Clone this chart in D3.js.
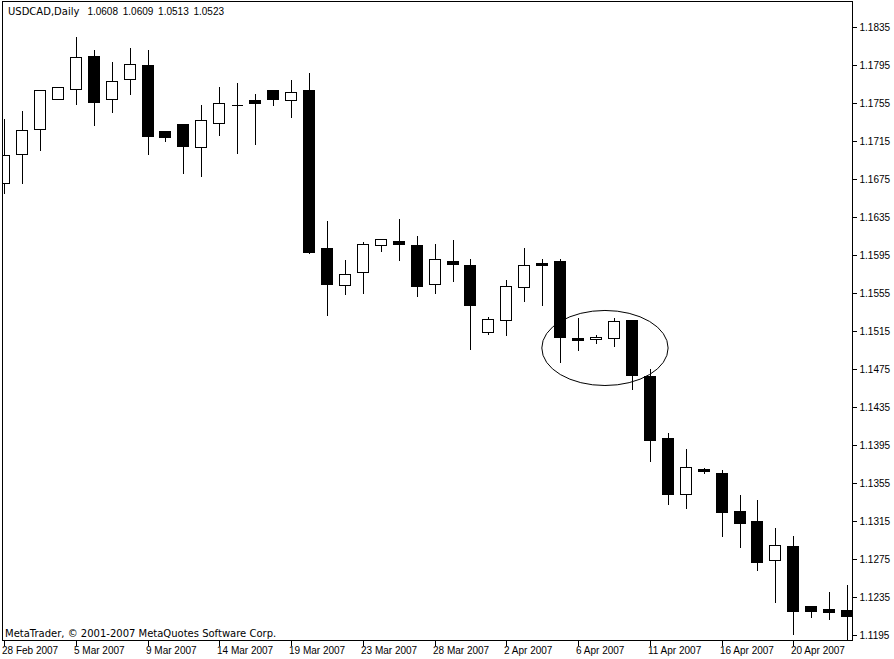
<!DOCTYPE html>
<html><head><meta charset="utf-8">
<script src="https://cdn.jsdelivr.net/npm/d3@7"></script>
<style>
html,body{margin:0;padding:0;background:#fff;overflow:hidden}
svg{display:block}
text{font-family:"Liberation Sans",Arial,sans-serif;font-size:10px;fill:#000}
</style></head><body>
<svg id="chart" width="894" height="659"></svg>
<script>
// ---- data ----
const dates = ["2007-02-28","2007-03-01","2007-03-02","2007-03-04","2007-03-05","2007-03-06","2007-03-07","2007-03-08",
  "2007-03-09","2007-03-11","2007-03-12","2007-03-13","2007-03-14","2007-03-15","2007-03-16","2007-03-18",
  "2007-03-19","2007-03-20","2007-03-21","2007-03-22","2007-03-23","2007-03-25","2007-03-26","2007-03-27",
  "2007-03-28","2007-03-29","2007-03-30","2007-04-01","2007-04-02","2007-04-03","2007-04-04","2007-04-05",
  "2007-04-06","2007-04-08","2007-04-09","2007-04-10","2007-04-11","2007-04-12","2007-04-13","2007-04-15",
  "2007-04-16","2007-04-17","2007-04-18","2007-04-19","2007-04-20","2007-04-22","2007-04-23","2007-04-24"];
const open  = [1.1670,1.1701,1.1727,1.1759,1.1769,1.1804,1.1759,1.1780,1.1795,1.1725,1.1733,1.1708,1.1734,1.1753,1.1758,1.1768,
  1.1758,1.1768,1.1602,1.1563,1.1577,1.1605,1.1609,1.1605,1.1564,1.1588,1.1584,1.1514,1.1526,1.1561,1.1586,1.1588,
  1.1507,1.1506,1.1507,1.1526,1.1467,1.1402,1.1343,1.1369,1.1365,1.1325,1.1315,1.1274,1.1288,1.1225,1.1222,1.1221];
const high  = [1.1739,1.1747,1.1769,1.1772,1.1825,1.1811,1.1799,1.1814,1.1811,1.1725,1.1733,1.1754,1.1773,1.1777,1.1765,1.1768,
  1.1780,1.1787,1.1631,1.1590,1.1609,1.1613,1.1634,1.1616,1.1607,1.1612,1.1591,1.1530,1.1569,1.1603,1.1592,1.1592,
  1.1529,1.1511,1.1529,1.1527,1.1476,1.1408,1.1391,1.1371,1.1369,1.1343,1.1338,1.1308,1.1300,1.1225,1.1241,1.1248];
const low   = [1.1660,1.1670,1.1705,1.1759,1.1754,1.1731,1.1745,1.1764,1.1701,1.1715,1.1681,1.1678,1.1721,1.1702,1.1711,1.1753,
  1.1740,1.1597,1.1531,1.1554,1.1555,1.1599,1.1589,1.1552,1.1555,1.1567,1.1496,1.1511,1.1510,1.1546,1.1542,1.1482,
  1.1495,1.1502,1.1499,1.1454,1.1378,1.1333,1.1328,1.1365,1.1299,1.1287,1.1263,1.1229,1.1196,1.1214,1.1212,1.1185];
const close = [1.1700,1.1726,1.1768,1.1771,1.1803,1.1756,1.1778,1.1796,1.1720,1.1719,1.1709,1.1737,1.1755,1.1753,1.1755,1.1759,
  1.1766,1.1598,1.1564,1.1575,1.1606,1.1611,1.1606,1.1562,1.1590,1.1585,1.1542,1.1527,1.1562,1.1584,1.1584,1.1508,
  1.1505,1.1508,1.1525,1.1468,1.1400,1.1343,1.1371,1.1367,1.1324,1.1313,1.1271,1.1289,1.1220,1.1220,1.1219,1.1215];
const priceTicks = [1.1195,1.1235,1.1275,1.1315,1.1355,1.1395,1.1435,1.1475,1.1515,1.1555,1.1595,1.1635,1.1675,1.1715,1.1755,1.1795,1.1835];
const dateTicks = ["2007-02-28","2007-03-05","2007-03-09","2007-03-14","2007-03-19","2007-03-23","2007-03-28",
  "2007-04-02","2007-04-06","2007-04-11","2007-04-16","2007-04-20"];
const symbolLabel = "USDCAD,Daily";
const lastQuote = ["1.0608","1.0609","1.0513","1.0523"];
const copyright = "MetaTrader, \u00A9 2001-2007 MetaQuotes Software Corp.";
// highlighted area (ellipse), in bar-index / price units
const highlightCenter = [33.47, 1.14968];
const highlightRadius = [3.52, 0.00395];

// ---- drawing ----
const W = 894, H = 659;
const frame = {left: 2.5, top: 1.5, right: 852.5, bottom: 640.5};
const wideFont = '"DejaVu Sans",Verdana,sans-serif';
const numFont = '"Liberation Sans",Arial,sans-serif';
const svg = d3.select("#chart");
const x = d3.scaleLinear().domain([0, dates.length - 1]).range([4.5, 847.7]);
const y = d3.scaleLinear().domain([1.1195, 1.1835]).range([634.7, 26.7]);
const parse = d3.timeParse("%Y-%m-%d");
const fmtDate = d3.timeFormat("%-d %b %Y");

svg.append("rect").attr("width", W).attr("height", H).attr("fill", "#fff");

svg.append("defs").append("clipPath").attr("id", "plot")
  .append("rect").attr("x", frame.left + 0.5).attr("y", frame.top + 0.5)
  .attr("width", frame.right - frame.left - 0.5).attr("height", frame.bottom - frame.top - 0.5);

const bars = dates.map((d, i) => ({i, d, o: open[i], h: high[i], l: low[i], c: close[i]}));
const g = svg.append("g").attr("clip-path", "url(#plot)").attr("shape-rendering", "crispEdges");
const cx = d => Math.floor(x(d.i)) + 0.5;
const py = v => Math.round(y(v)) + 0.5;

g.selectAll("line.wick").data(bars).join("line").attr("class", "wick")
  .attr("x1", cx).attr("x2", cx)
  .attr("y1", d => py(d.h)).attr("y2", d => py(d.l))
  .attr("stroke", "#000").attr("stroke-width", 1);

g.selectAll("rect.body").data(bars.filter(d => py(d.o) !== py(d.c))).join("rect").attr("class", "body")
  .attr("x", d => cx(d) - 6).attr("width", 11)
  .attr("y", d => py(Math.max(d.o, d.c)))
  .attr("height", d => py(Math.min(d.o, d.c)) - py(Math.max(d.o, d.c)))
  .attr("fill", d => d.c >= d.o ? "#fff" : "#000")
  .attr("stroke", "#000").attr("stroke-width", 1);

g.selectAll("line.doji").data(bars.filter(d => py(d.o) === py(d.c))).join("line").attr("class", "doji")
  .attr("x1", d => cx(d) - 6).attr("x2", d => cx(d) + 5)
  .attr("y1", d => py(d.o)).attr("y2", d => py(d.o))
  .attr("stroke", "#000").attr("stroke-width", 1);

// highlight ellipse
svg.append("ellipse")
  .attr("cx", x(highlightCenter[0])).attr("cy", y(highlightCenter[1]))
  .attr("rx", x(highlightCenter[0] + highlightRadius[0]) - x(highlightCenter[0]))
  .attr("ry", y(highlightCenter[1] - highlightRadius[1]) - y(highlightCenter[1]))
  .attr("fill", "none").attr("stroke", "#000").attr("stroke-width", 1);

// frame
svg.append("rect").attr("x", frame.left).attr("y", frame.top)
  .attr("width", frame.right - frame.left).attr("height", frame.bottom - frame.top)
  .attr("fill", "none").attr("stroke", "#000").attr("stroke-width", 1).attr("shape-rendering", "crispEdges");

// price axis
const ya = svg.append("g").attr("transform", `translate(${frame.right},0)`)
  .call(d3.axisRight(y).tickValues(priceTicks).tickSize(4).tickFormat(d3.format(".4f")));
ya.select(".domain").remove();
ya.selectAll(".tick line").attr("shape-rendering", "crispEdges").attr("stroke", "#000")
  .attr("transform", "translate(0,0.5)");
ya.selectAll(".tick text").attr("x", 7).attr("dy", "0.35em")
  .style("font-family", numFont).style("font-size", "10px").attr("fill", "#000");

// date axis
const idxOf = s => dates.indexOf(s);
const xa = svg.append("g").attr("transform", `translate(0,${frame.bottom})`)
  .call(d3.axisBottom(x).tickValues(dateTicks.map(idxOf)).tickSize(5)
    .tickFormat(i => fmtDate(parse(dates[i]))));
xa.select(".domain").remove();
xa.selectAll(".tick").attr("transform", d => `translate(${Math.floor(x(d)) + 0.5},0)`);
xa.selectAll(".tick line").attr("shape-rendering", "crispEdges").attr("stroke", "#000");
xa.selectAll(".tick text").attr("text-anchor", "start").attr("x", -2.5).attr("y", 13.5).attr("dy", 0)
  .style("font-family", numFont).style("font-size", "10px").attr("fill", "#000");

// header and footer texts
const head = svg.append("text").attr("x", 8).attr("y", 15);
head.append("tspan").style("font-family", wideFont).text(symbolLabel);
head.append("tspan").attr("dx", 8).style("font-family", numFont).style("word-spacing", "2px")
  .text(lastQuote.join(" "));
svg.append("text").attr("x", 5).attr("y", 637).style("font-family", wideFont).text(copyright);
</script>
</body></html>
